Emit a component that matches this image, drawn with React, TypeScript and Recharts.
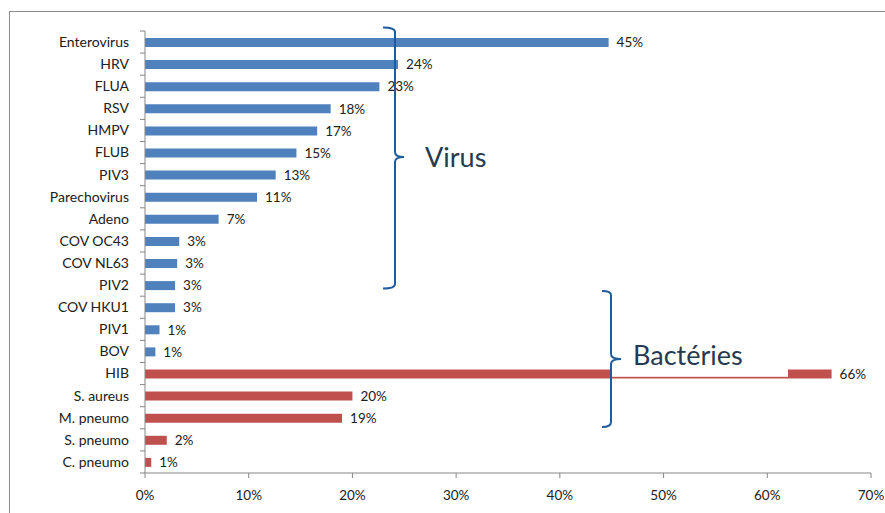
import { BarChart, Bar, XAxis, YAxis, Cell, LabelList } from 'recharts'

// Excel-2007 palette
const C_VIRUS = '#4F81BD'
const C_BACT = '#C0504D'
const C_AXIS = '#868686'
const C_TEXT = '#202020'
const C_BRACE = '#1F5C9E'
const C_NOTE = '#253A52'
const FONT = 'Lato, "Open Sans", sans-serif'

const CATEGORIES = [
  'Enterovirus', 'HRV', 'FLUA', 'RSV', 'HMPV', 'FLUB', 'PIV3', 'Parechovirus', 'Adeno',
  'COV OC43', 'COV NL63', 'PIV2', 'COV HKU1', 'PIV1', 'BOV',
  'HIB', 'S. aureus', 'M. pneumo', 'S. pneumo', 'C. pneumo',
]
const VALUES = [44.7, 24.4, 22.6, 17.9, 16.6, 14.6, 12.6, 10.8, 7.1, 3.3, 3.1, 2.9, 2.9, 1.4, 1.0, 66.2, 20.0, 19.0, 2.1, 0.6]
const GROUPS = [
  'virus', 'virus', 'virus', 'virus', 'virus', 'virus', 'virus', 'virus', 'virus',
  'virus', 'virus', 'virus', 'virus', 'virus', 'virus',
  'bact', 'bact', 'bact', 'bact', 'bact',
]
const X_TICKS = [0, 10, 20, 30, 40, 50, 60, 70]

const data = CATEGORIES.map((name, i) => ({ name, value: VALUES[i], group: GROUPS[i] }))

// layout
const W = 885
const H = 513
const M_TOP = 31
const M_RIGHT = 14
const Y_W = 145
const X_H = 40
const HALF_BAND = (H - M_TOP - X_H) / CATEGORIES.length / 2

// Excel puts the category tick marks between the bars, so draw them in the tick
function CategoryTick(props: any) {
  const { x, y, payload } = props
  const half = payload.offset || HALF_BAND
  const last = payload.value === CATEGORIES[CATEGORIES.length - 1]
  return (
    <g>
      <line x1={Y_W - 5} x2={Y_W} y1={y - half} y2={y - half} stroke={C_AXIS} />
      {last && <line x1={Y_W - 5} x2={Y_W} y1={y + half} y2={y + half} stroke={C_AXIS} />}
      <text x={x} y={y} dy="0.35em" textAnchor="end" fill={C_TEXT} fontSize={14} fontFamily={FONT}>
        {payload.value}
      </text>
    </g>
  )
}

function Notes() {
  return (
    <svg width={W} height={H} style={{ position: 'absolute', left: 0, top: 0, pointerEvents: 'none' }}>
      {/* text box of "Bactéries" hides most of the HIB bar */}
      <rect x={612} y={336} width={176} height={40.8} fill="#fff" />
      <path
        d="M383,27.5 Q395,27.5 395,32 V152 Q395,157 404,157 Q395,157 395,162 V284 Q395,288.5 383,288.5"
        fill="none" stroke={C_BRACE} strokeWidth={2}
      />
      <path
        d="M602,291 Q611,291 611,295 V354 Q611,359 621,359 Q611,359 611,364 V422 Q611,427 602,427"
        fill="none" stroke={C_BRACE} strokeWidth={2}
      />
      <text x={425} y={166.5} fill={C_NOTE} fontSize={27} fontFamily={FONT}>Virus</text>
      <text x={633} y={365} fill={C_NOTE} fontSize={27} fontFamily={FONT}>Bactéries</text>
    </svg>
  )
}

export default function App() {
  return (
    <div style={{ position: 'fixed', left: 0, top: 0, width: W, height: H, overflow: 'hidden', background: '#fff', fontFamily: FONT }}>
      <div style={{ position: 'absolute', left: 9, top: 11, width: 1200, height: 1200, border: '1px solid #8c8c8c' }} />
      <div style={{ position: 'absolute', left: 0, top: 0 }}>
        <BarChart width={W} height={H} data={data} layout="vertical" margin={{ top: M_TOP, right: M_RIGHT, bottom: 0, left: 0 }}>
          <XAxis
            type="number" domain={[0, 70]} ticks={X_TICKS} interval={0} height={X_H}
            tickFormatter={(v: number) => `${v}%`}
            stroke={C_AXIS} tickSize={5} tickMargin={12}
            tick={{ fill: C_TEXT, fontSize: 13.5, fontFamily: FONT }}
          />
          <YAxis
            type="category" dataKey="name" width={Y_W} interval={0}
            stroke={C_AXIS} tickLine={false} tickSize={0} tickMargin={16}
            tick={<CategoryTick />}
          />
          <Bar dataKey="value" barSize={9} isAnimationActive={false}>
            {data.map((d) => (
              <Cell key={d.name} fill={d.group === 'virus' ? C_VIRUS : C_BACT} />
            ))}
            <LabelList
              dataKey="value" position="right" offset={8}
              formatter={(v: any) => `${Math.round(Number(v))}%`}
              fill={C_TEXT} fontSize={13.5} fontFamily={FONT}
            />
          </Bar>
        </BarChart>
      </div>
      <Notes />
    </div>
  )
}
